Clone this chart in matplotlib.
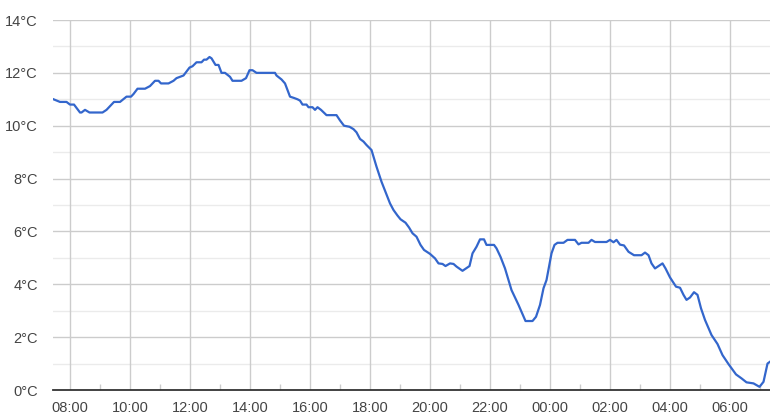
import matplotlib
matplotlib.use("Agg")
import matplotlib.pyplot as plt
from matplotlib.ticker import FixedLocator

times = ["07:27","07:40","07:53","08:00","08:08","08:20","08:23","08:30","08:39","09:05",
         "09:13","09:23","09:28","09:40","09:53","10:02","10:07","10:15","10:30","10:40",
         "10:50","10:57","11:02","11:17","11:27","11:33","11:47","11:51","11:59","12:05",
         "12:13","12:23","12:28","12:33","12:39","12:43","12:51","12:57","13:03","13:10",
         "13:20","13:25","13:43","13:52","13:59","14:05","14:13","14:50","14:53","15:03",
         "15:10","15:20","15:28","15:35","15:40","15:45","15:53","15:57","16:05","16:10",
         "16:15","16:22","16:33","16:53","17:00","17:08","17:19","17:27","17:33","17:40",
         "17:47","17:53","18:03","18:13","18:23","18:32","18:40","18:47","18:55","19:01",
         "19:11","19:18","19:25","19:33","19:41","19:48","20:00","20:10","20:17","20:25",
         "20:31","20:40","20:47","20:53","21:05","21:19","21:25","21:33","21:40","21:48",
         "21:53","22:08","22:13","22:21","22:30","22:43","22:57","23:11","23:25","23:32",
         "23:40","23:47","23:53","00:03","00:09","00:15","00:27","00:35","00:50","00:57",
         "01:03","01:17","01:23","01:30","01:53","02:00","02:07","02:13","02:20","02:28",
         "02:37","02:48","03:03","03:10","03:17","03:23","03:30","03:45","03:51","04:00",
         "04:12","04:20","04:27","04:33","04:40","04:48","04:55","05:02","05:10","05:23",
         "05:35","05:45","05:57","06:12","06:23","06:33","06:47","06:59","07:07","07:15",
         "07:20"]
temps = [11.0,10.9,10.9,10.8,10.8,10.5,10.5,10.6,10.5,10.5,
         10.6,10.8,10.9,10.9,11.1,11.1,11.2,11.4,11.4,11.5,
         11.7,11.7,11.6,11.6,11.7,11.8,11.9,12.0,12.2,12.25,
         12.4,12.4,12.5,12.5,12.6,12.55,12.3,12.3,12.0,12.0,
         11.85,11.7,11.7,11.8,12.1,12.1,12.0,12.0,11.9,11.75,
         11.6,11.1,11.05,11.0,10.95,10.8,10.8,10.7,10.7,10.6,
         10.7,10.6,10.4,10.4,10.2,10.0,9.96,9.87,9.75,9.5,
         9.4,9.27,9.08,8.45,7.88,7.44,7.06,6.81,6.6,6.46,
         6.33,6.15,5.93,5.8,5.49,5.3,5.15,4.98,4.79,4.77,
         4.69,4.79,4.77,4.67,4.51,4.69,5.17,5.42,5.7,5.7,
         5.49,5.49,5.36,5.04,4.6,3.78,3.22,2.61,2.61,2.77,
         3.22,3.85,4.16,5.17,5.49,5.57,5.57,5.68,5.68,5.51,
         5.57,5.57,5.68,5.6,5.6,5.68,5.59,5.68,5.5,5.47,
         5.23,5.1,5.1,5.2,5.1,4.79,4.6,4.79,4.6,4.26,
         3.91,3.87,3.6,3.41,3.5,3.7,3.6,3.09,2.65,2.08,
         1.74,1.32,0.98,0.59,0.44,0.29,0.25,0.12,0.31,1.0,
         1.07]

y_ticks = [0, 2, 4, 6, 8, 10, 12, 14]
x_tick_hours = [8, 10, 12, 14, 16, 18, 20, 22, 24, 26, 28, 30]

# convert to continuous hours
hours = []
offset = 0.0
prev = None
for t in times:
    h, m = map(int, t.split(":"))
    v = h + m / 60.0
    if prev is not None and v + offset < prev - 1:
        offset += 24.0
    v += offset
    hours.append(v)
    prev = v

plt.rcParams['font.family'] = ['Liberation Sans', 'DejaVu Sans']

fig = plt.figure(figsize=(7.7, 4.18), dpi=100)
W, H = 770, 418
left, right, top, bottom = 53, 770, 20, 390
ax = fig.add_axes([left / W, 1 - bottom / H, (right - left) / W, (bottom - top) / H])

ax.set_xlim(7.433, 31.333)
ax.set_ylim(0, 14)

for s in ['top', 'right', 'left']:
    ax.spines[s].set_visible(False)
ax.spines['bottom'].set_color('#333333')
ax.spines['bottom'].set_linewidth(1.3)
ax.spines['bottom'].set_zorder(5)

# gridlines
for y in range(1, 14, 2):
    ax.axhline(y, color='#ebebeb', lw=1, zorder=1)
for y in y_ticks[1:]:
    ax.axhline(y, color='#cccccc', lw=1, zorder=1)
for x in x_tick_hours:
    ax.axvline(x, color='#cccccc', lw=1, zorder=1)

ax.set_yticks(y_ticks)
ax.set_yticklabels([f"{v}°C" for v in y_ticks])
ax.set_xticks(x_tick_hours)
ax.set_xticklabels([f"{int(h) % 24:02d}:00" for h in x_tick_hours])
ax.xaxis.set_minor_locator(FixedLocator([h + 1 for h in x_tick_hours if h + 1 < 31.3]))
ax.tick_params(axis='both', which='major', length=0, labelsize=10.5, labelcolor='#444444')
ax.tick_params(axis='y', pad=11)
ax.tick_params(axis='x', pad=8)
ax.tick_params(axis='x', which='minor', direction='in', length=4, color='#cccccc', width=1)

ax.plot(hours, temps, color='#3366cc', lw=1.6, zorder=4, solid_joinstyle='round')

fig.savefig("out.png", dpi=100)
